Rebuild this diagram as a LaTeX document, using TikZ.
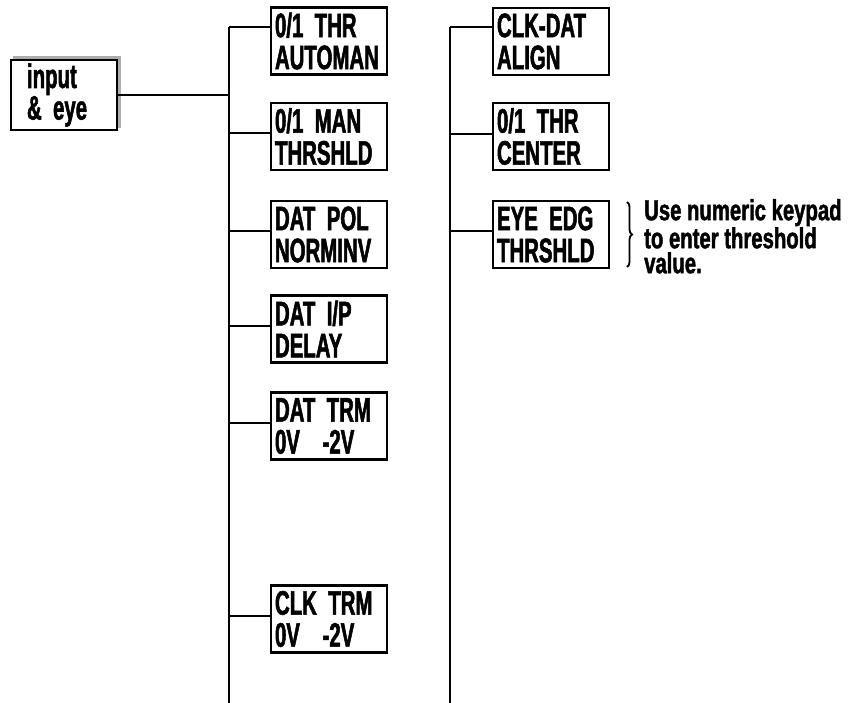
\documentclass[tikz,border=0pt]{standalone}
\usepackage{fontspec}
\newfontfamily\condbold{Liberation Sans}[UprightFont={* Bold}, FakeStretch=0.6, FakeBold=1.5]
\newfontfamily\notebold{Liberation Sans}[UprightFont={* Bold}, FakeStretch=0.7, FakeBold=1.5]
\newcommand\myboxfont{\condbold\fontsize{34}{32}\selectfont\spaceskip=7pt\relax}
\newcommand\myinfont{\condbold\fontsize{34}{30}\selectfont\spaceskip=7pt\relax}
\usetikzlibrary{decorations.pathreplacing,backgrounds}
\tikzset{
  menubox/.style={draw, line width=2.6pt, fill=white, text width=108pt, inner xsep=4pt,
    minimum height=67pt, align=left, font=\myboxfont},
  wire/.style={line width=2.4pt},
  note/.style={align=left, anchor=north west, inner sep=0pt, font=\notebold\fontsize{29}{25}\selectfont}
}
\begin{document}
\begin{tikzpicture}[x=1pt,y=-1pt]
\useasboundingbox (0,0) rectangle (849,703);
% input box
\node[menubox, text width=74pt, inner xsep=16pt, minimum height=64pt, font=\myinfont] (in) at (64,95) {input\\\& eye};
\begin{scope}[on background layer]
\fill[gray!65] ([xshift=3pt,yshift=3pt]in.south west) rectangle ([xshift=3pt,yshift=3pt]in.north east);
\end{scope}
% left column
\node[menubox] (a1) at (329,41) {0/1 THR\\AUTOMAN};
\node[menubox] (a2) at (329,136.5) {0/1 MAN\\THRSHLD};
\node[menubox] (a3) at (329,234.5) {DAT POL\\NORMINV};
\node[menubox] (a4) at (329,329) {DAT I/P\\DELAY};
\node[menubox] (a5) at (329,426) {DAT TRM\\0V~~-2V};
\node[menubox] (a6) at (329,619) {CLK TRM\\0V~~-2V};
% right column
\node[menubox] (b1) at (551,41.5) {CLK-DAT\\ALIGN};
\node[menubox] (b2) at (551,136.5) {0/1 THR\\CENTER};
\node[menubox] (b3) at (551,234.5) {EYE EDG\\THRSHLD};
% trunks
\coordinate (lt) at (229,27);
\coordinate (lb) at (229,703);
\coordinate (rt) at (450,27);
\coordinate (rb) at (450,703);
\draw[wire] (lt) -- (lb);
\draw[wire] (rt) -- (rb);
\draw[wire] (in.east) -- (in.east -| lt);
% left branches
\draw[wire] (lt) -- (lt -| a1.west);
\draw[wire] (229,133) -- (229,133 -| a2.west);
\draw[wire] (229,231) -- (229,231 -| a3.west);
\draw[wire] (229,326) -- (229,326 -| a4.west);
\draw[wire] (229,423) -- (229,423 -| a5.west);
\draw[wire] (229,616) -- (229,616 -| a6.west);
% right branches
\draw[wire] (rt) -- (rt -| b1.west);
\draw[wire] (450,134) -- (450,134 -| b2.west);
\draw[wire] (450,231) -- (450,231 -| b3.west);
% brace and note
\coordinate (bt) at (627,202);
\coordinate (bb) at (627,267);
\draw[line width=1.8pt, decorate, decoration={brace, amplitude=5pt}] (bt) -- (bb);
\node[note] (n) at (644,199) {Use numeric keypad\\to enter threshold\\value.};
\end{tikzpicture}
\end{document}
